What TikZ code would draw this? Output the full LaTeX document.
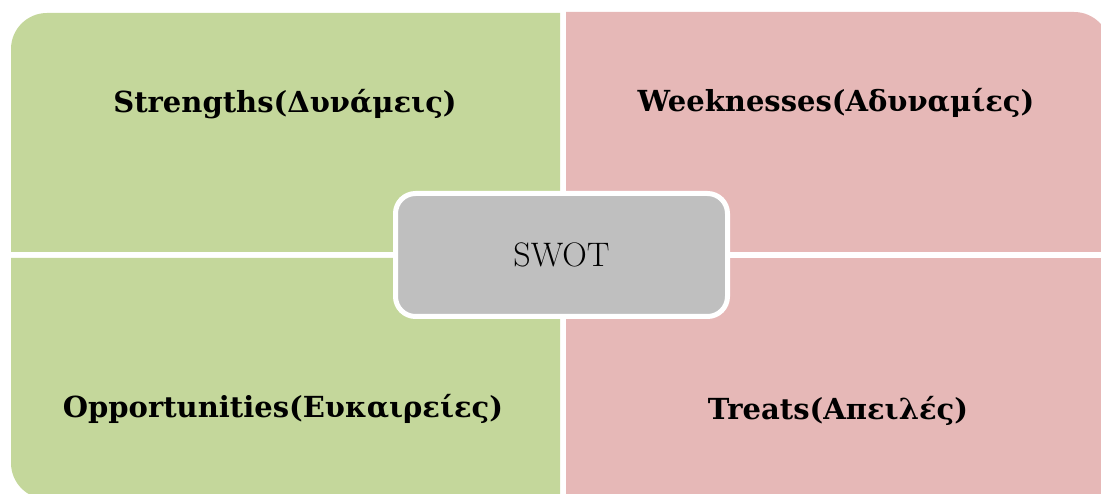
\documentclass[tikz,border=0pt]{standalone}
\usepackage{fontspec}
\newfontfamily\lblfont{DejaVu Serif}
\definecolor{qgreen}{RGB}{196,215,155}
\definecolor{qpink}{RGB}{230,184,183}
\definecolor{qgray}{RGB}{191,191,191}
\begin{document}
\begin{tikzpicture}[x=1pt,y=1pt,
  lbl/.style={font=\lblfont\bfseries\fontsize{29}{33}\selectfont, text=black, anchor=base, inner sep=0pt},
  center/.style={draw=white, line width=5pt, fill=qgray, rounded corners=20pt,
    minimum width=332pt, minimum height=123pt, inner sep=0pt}]
\useasboundingbox (0,0) rectangle (1101,493);
\clip (0,0) rectangle (1101,493);
% quadrants
\fill[qgreen] (560,241) -- (11,241) -- (11,444) arc[start angle=180, end angle=90, radius=36] -- (560,480) -- cycle;
\fill[qpink] (566,241) -- (566,481) -- (1074,481) arc[start angle=90, end angle=0, radius=36] -- (1110,241) -- cycle;
\fill[qgreen] (560,235) -- (11,235) -- (11,30) arc[start angle=180, end angle=270, radius=36] -- (560,-6) -- cycle;
\fill[qpink] (566,235) -- (1110,235) -- (1110,-10) -- (566,-10) -- cycle;
% labels
\node[lbl] (s) at (285,380) {Strengths(Δυνάμεις)};
\node[lbl] (w) at (836,381) {Weeknesses(Αδυναμίες)};
\node[lbl] (o) at (283,75) {Opportunities(Ευκαιρείες)};
\node[lbl] (t) at (838,74) {Treats(Απειλές)};
% center
\node[center] (swot) at (561.5,238) {};
\node[anchor=base, inner sep=0pt, font=\fontsize{34}{38}\selectfont] (swotlbl) at (561.5,226) {SWOT};
\end{tikzpicture}
\end{document}
